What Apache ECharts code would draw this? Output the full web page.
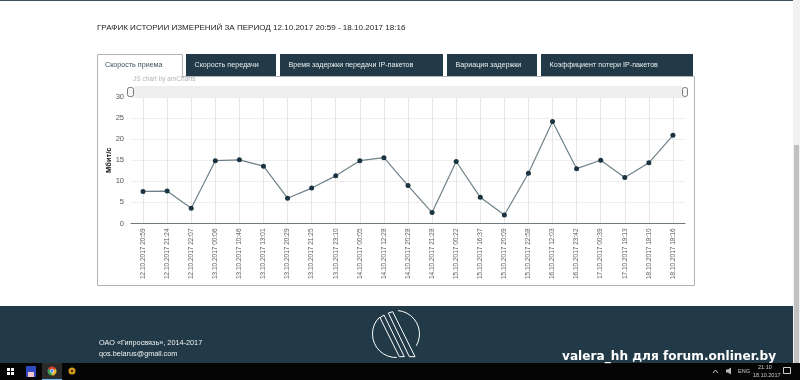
<!DOCTYPE html>
<html>
<head>
<meta charset="utf-8">
<style>
html, body { margin: 0; padding: 0; background: #fff; overflow: hidden; }
#chart { width: 800px; height: 380px; }
</style>
<script src="https://cdn.jsdelivr.net/npm/echarts@6/dist/echarts.min.js"></script>
</head>
<body>
<div id="chart"></div>
<script>
const categories = [
    '12.10.2017 20:59', '12.10.2017 21:24', '12.10.2017 22:07', '13.10.2017 00:06',
    '13.10.2017 10:46', '13.10.2017 13:01', '13.10.2017 20:29', '13.10.2017 21:25',
    '13.10.2017 23:10', '14.10.2017 00:05', '14.10.2017 12:28', '14.10.2017 20:28',
    '14.10.2017 21:28', '15.10.2017 00:22', '15.10.2017 16:37', '15.10.2017 20:09',
    '15.10.2017 22:58', '16.10.2017 12:03', '16.10.2017 23:42', '17.10.2017 00:39',
    '17.10.2017 19:13', '18.10.2017 18:10', '18.10.2017 18:16'
]
const speedValues = [
    7.6, 7.7, 3.6, 14.9, 15.1, 13.6, 6.0, 8.4, 11.3, 14.9, 15.6, 9.0,
    2.6, 14.7, 6.2, 2.0, 11.9, 24.2, 13.0, 15.0, 10.9, 14.4, 20.9
]
const tabs = [
    ['Скорость передачи', 186, 90],
    ['Время задержки передачи IP-пакетов', 280, 163],
    ['Вариация задержки', 447, 90],
    ['Коэффициент потери IP-пакетов', 541, 152]
]
const dark = '#223a47'
const font = '"Liberation Sans", Arial, sans-serif'

const rect = (x, y, width, height, fill, stroke, r) => ({
    type: 'rect',
    shape: { x, y, width, height, r: r || 0 },
    style: { fill, stroke: stroke || null, lineWidth: stroke ? 1 : 0 }
})
const label = (text, x, y, size, fill, extra) => ({
    type: 'text',
    x, y,
    style: Object.assign({ text, fill, font: size + 'px ' + font, textVerticalAlign: 'middle' }, extra)
})
const stroke = (x1, y1, x2, y2, color, width) => ({
    type: 'line',
    shape: { x1, y1, x2, y2 },
    style: { stroke: color, lineWidth: width || 1 }
})
const arc = (cx, cy, r, from, to) => ({
    type: 'arc',
    shape: { cx, cy, r, startAngle: from * Math.PI / 180, endAngle: to * Math.PI / 180, clockwise: true },
    style: { fill: null, stroke: '#fff', lineWidth: 1 }
})
const slice = (cx, cy, r, from, to, fill) => ({
    type: 'sector',
    shape: { cx, cy, r, r0: 0, startAngle: from * Math.PI / 180, endAngle: to * Math.PI / 180, clockwise: true },
    style: { fill }
})

const graphics = [
    // страница
    rect(0, 0, 793, 1, '#3d525e'),
    rect(793, 0, 7, 380, '#f1f1f1'),
    rect(794, 145, 5, 235, '#c1c1c1'),
    label('ГРАФИК ИСТОРИИ ИЗМЕРЕНИЙ ЗА ПЕРИОД 12.10.2017 20:59 - 18.10.2017 18:16', 97, 28, 8.05, '#222'),
    // рамка графика и вкладки
    rect(97.5, 76.5, 597, 209, 'none', '#aeb6ba'),
    rect(97.5, 54.5, 85, 23, '#fff', '#aeb6ba'),
    rect(98, 75, 84, 3, '#fff'),
    label('Скорость приема', 105, 65.5, 7.15, '#3c5560')
]
tabs.forEach(t => {
    graphics.push(rect(t[1], 54, t[2], 22, dark))
    graphics.push(label(t[0], t[1] + 8.5, 65.5, 7.15, '#e8edef'))
})
graphics.push(
    label('JS chart by amCharts', 133, 79.5, 6.5, '#b5b5b5'),
    // полоса прокрутки amCharts
    rect(134, 86, 548, 11, '#eeeeee'),
    rect(127.5, 87.5, 6, 9, '#f5f5f5', '#777', 2),
    rect(682.5, 87.5, 5, 9, '#f5f5f5', '#777', 2),
    // подвал
    rect(0, 306, 793, 57, dark),
    label('ОАО «Гипросвязь», 2014-2017', 99, 342.5, 7.3, '#eef2f3'),
    label('qos.belarus@gmail.com', 99, 353.5, 7.3, '#eef2f3'),
    arc(396, 334, 23.5, 88, 226),
    arc(396, 334, 23.5, -85, 30),
    stroke(380, 317.7, 399.3, 356.7, '#fff'),
    stroke(384, 315, 404.3, 356.7, '#fff'),
    stroke(388.3, 313, 409.3, 356.7, '#fff'),
    stroke(392.7, 311.7, 415, 356.7, '#fff'),
    stroke(380, 317.7, 384, 315, '#fff'),
    stroke(388.3, 313, 392.7, 311.7, '#fff'),
    stroke(399.3, 356.7, 404.3, 356.7, '#fff'),
    stroke(409.3, 356.7, 415, 356.7, '#fff'),
    // панель задач
    rect(0, 363, 800, 17, '#050505'),
    rect(42, 363, 20, 17, '#2a2a2a'),
    rect(42, 379, 20, 1, '#76b9ed'),
    rect(7, 368, 3, 3, '#fff'), rect(11, 368, 3, 3, '#fff'), rect(7, 372, 3, 3, '#fff'), rect(11, 372, 3, 3, '#fff'),
    rect(26, 366, 10, 11, '#2f49c0'),
    rect(28, 372, 6, 5, '#f2c4d0'),
    slice(52, 371, 4.5, -150, -30, '#d9432f'),
    slice(52, 371, 4.5, -30, 90, '#e8b92e'),
    slice(52, 371, 4.5, 90, 210, '#3a9c4a'),
    { type: 'circle', shape: { cx: 52, cy: 371, r: 1.8 }, style: { fill: '#4285f4', stroke: '#fff', lineWidth: 0.6 } },
    { type: 'circle', shape: { cx: 72, cy: 371, r: 3.5 }, style: { fill: '#d89a1c' } },
    { type: 'circle', shape: { cx: 72, cy: 371, r: 1.2 }, style: { fill: '#3a2a08' } },
    { type: 'polyline', shape: { points: [[713, 373], [715.5, 370], [718, 373]] }, style: { fill: null, stroke: '#ccc', lineWidth: 1 } },
    rect(726, 369.5, 2, 3, '#bbb'),
    { type: 'polygon', shape: { points: [[728, 369.5], [731, 367.5], [731, 374.5], [728, 372.5]] }, style: { fill: '#bbb' } },
    label('ENG', 738, 371.5, 5.5, '#ccc'),
    label('21:10', 758, 367.5, 5.5, '#ccc'),
    label('18.10.2017', 753, 375.5, 5.5, '#ccc'),
    rect(783.5, 367.5, 7, 6, 'none', '#ccc'),
    label('valera_hh для forum.onliner.by', 562, 356.5, 12.15, '#fff', { font: 'bold 12.15px "DejaVu Sans", sans-serif' })
)

const chart = echarts.init(document.getElementById('chart'), null, { renderer: 'canvas' })
chart.setOption({
    animation: false,
    backgroundColor: '#fff',
    textStyle: { fontFamily: font },
    grid: { left: 131, right: 115, top: 97, bottom: 156.5, containLabel: false },
    xAxis: {
        type: 'category',
        data: categories,
        axisLine: { lineStyle: { color: '#6f7b80', width: 1 } },
        axisTick: { alignWithLabel: true, length: 4, lineStyle: { color: '#999' } },
        axisLabel: { interval: 0, rotate: 90, fontSize: 6.5, color: '#5c5c5c', margin: 5 },
        splitLine: { show: true, alignWithLabel: true, lineStyle: { color: '#e6e6e6' } }
    },
    yAxis: {
        type: 'value',
        min: 0,
        max: 30,
        interval: 5,
        name: 'Мбит/с',
        nameLocation: 'middle',
        nameGap: 18,
        nameMoveOverlap: false,
        nameRotate: 90,
        nameTextStyle: { fontSize: 7.5, fontWeight: 'bold', color: '#111' },
        axisLine: { show: false },
        axisTick: { show: false },
        axisLabel: { fontSize: 7.5, color: '#555', margin: 7 },
        splitLine: { lineStyle: { color: '#eeeeee' } }
    },
    series: [{
        type: 'line',
        data: speedValues,
        symbol: 'circle',
        symbolSize: 5,
        lineStyle: { color: '#6f8088', width: 1.2 },
        itemStyle: { color: '#1c3442' }
    }],
    graphic: { elements: graphics.map(g => Object.assign({ silent: true, z: 10 }, g)) }
})
</script>
</body>
</html>
